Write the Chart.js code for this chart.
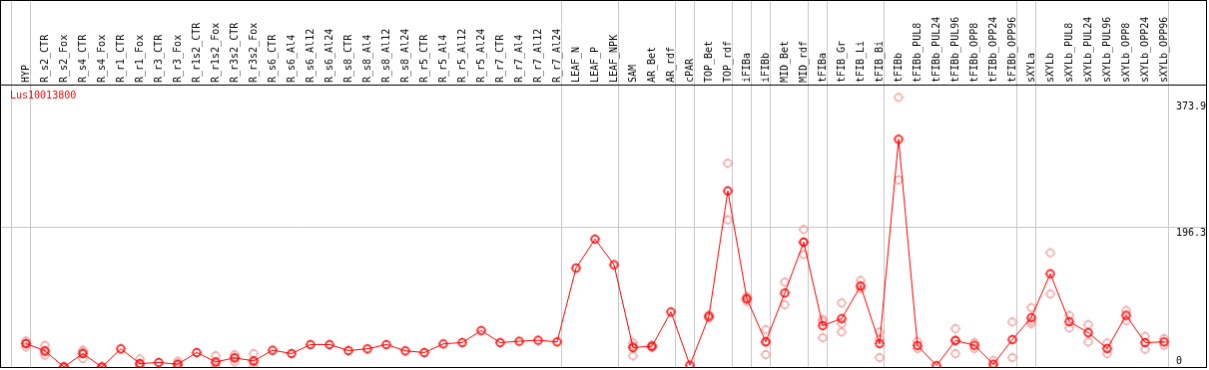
<!DOCTYPE html>
<html>
<head>
<meta charset="utf-8">
<script src="https://cdn.jsdelivr.net/npm/chart.js@4.4.1/dist/chart.umd.min.js"></script>
<style>
  html, body { margin: 0; padding: 0; background: #fff; }
  #c { display: block; border: 1px solid #000; }
</style>
</head>
<body>
<canvas id="c" width="1207" height="368"></canvas>
<script>
const seriesName = 'Lus10013800';
const categories = ['HYP','R_s2_CTR','R_s2_Fox','R_s4_CTR','R_s4_Fox','R_r1_CTR','R_r1_Fox','R_r3_CTR','R_r3_Fox','R_r1s2_CTR','R_r1s2_Fox','R_r3s2_CTR','R_r3s2_Fox','R_s6_CTR','R_s6_Al4','R_s6_Al12','R_s6_Al24','R_s8_CTR','R_s8_Al4','R_s8_Al12','R_s8_Al24','R_r5_CTR','R_r5_Al4','R_r5_Al12','R_r5_Al24','R_r7_CTR','R_r7_Al4','R_r7_Al12','R_r7_Al24','LEAF_N','LEAF_P','LEAF_NPK','SAM','AR_Bet','AR_rdf','cPAR','TOP_Bet','TOP_rdf','iFIBa','iFIBb','MID_Bet','MID_rdf','tFIBa','tFIB_Gr','tFIB_Li','tFIB_Bi','tFIBb','tFIBb_PUL8','tFIBb_PUL24','tFIBb_PUL96','tFIBb_OPP8','tFIBb_OPP24','tFIBb_OPP96','sXYLa','sXYLb','sXYLb_PUL8','sXYLb_PUL24','sXYLb_PUL96','sXYLb_OPP8','sXYLb_OPP24','sXYLb_OPP96'];

const means = [32.9,22.7,0,18.9,0,25.5,4.9,6.3,4,20.3,7.2,12.8,8.6,23.5,18.9,31.5,31.5,23.1,25.5,31.5,22.7,20.3,32.5,34.3,51.1,34.3,36.1,37.5,35.3,138.9,179.5,143.5,27.3,29.1,77.3,2.6,71.1,247.1,95.9,35.3,103.9,175.3,58.1,67.9,113.7,32.9,319.5,30.1,2,37.1,30.5,4,38.5,69.3,130.9,63.7,48.3,25.9,72.5,34.3,35.3];

const replicates = [
  [36.7,28.3,33],[30.5,16.5,21],[0,0,0],[23.5,11.9,21],[0,0,0],[],[11.5,0,3],[],[8.2,0,4],[],[16,0,5.5],[17.5,7.2,13.5],[18.9,0,7],
  [],[],[],[],[],[],[],[],[],[],[],[],[],[],[],[],
  [],[],[],
  [34.3,15.7,30],[31,27.5,29],[],[],[69,73],[285.9,206.5],[99,92,96],[52.5,17.5,36],[119.3,87.5],[193,158,175],
  [67,41.3,64],[89.9,60.9,49.3],[121.5,109.9],[49.3,38.9,13.3],[378.3,262.5],
  [36.1,25.9],[],[53.9,18.9,38],[34.3,25.9],[9.5,0],[63.3,13.3],
  [83.3,60.9,64],[160.3,102.5],[72.5,54.9],[59.5,35.3],[33.9,18.5],[79.5,65.1],[43.1,24.9],[39.9,30.5]
];

const yTickValues = [0, 196.3, 373.9];
const yTickLabels = ['0', '196.3', '373.9'];
const groupEnds = [-1, 0, 28, 31, 34, 35, 37, 38, 39, 41, 42, 45, 52, 53, 60];

function makeMarker(color, lw, size) {
  const c = document.createElement('canvas');
  c.width = 13; c.height = 13;
  const g = c.getContext('2d');
  g.strokeStyle = color;
  g.lineWidth = lw;
  g.beginPath(); g.arc(6.5, 6.5, size, 0, Math.PI * 2); g.stroke();
  g.lineWidth = 1;
  g.beginPath();
  g.moveTo(6.5, 1.5); g.lineTo(6.5, 2.6);
  g.moveTo(6.5, 10.4); g.lineTo(6.5, 11.5);
  g.moveTo(1.5, 6.5); g.lineTo(2.6, 6.5);
  g.moveTo(10.4, 6.5); g.lineTo(11.5, 6.5);
  g.stroke();
  return c;
}
const mainMarker = makeMarker('#ff0000', 1.6, 3.7);
const paleMarker = makeMarker('rgba(238,140,140,1)', 1.2, 3.7);

const meanPoints = means.map((v, i) => ({x: i, y: v}));
const repPoints = [];
replicates.forEach((arr, i) => arr.forEach(v => repPoints.push({x: i, y: v})));

const pxPerCat = 19;
const W = 1207;
const firstPx = 25;
const xMin = -firstPx / pxPerCat;
const xMax = xMin + W / pxPerCat;
const monoFont = {family: 'DejaVu Sans Mono', size: 10, lineHeight: 1.2};

const seriesTitle = {
  id: 'seriesTitle',
  afterDraw(chart) {
    const {ctx, chartArea} = chart;
    ctx.save();
    ctx.fillStyle = '#ff0000';
    ctx.font = '10px "DejaVu Sans Mono"';
    ctx.textBaseline = 'middle';
    ctx.textAlign = 'left';
    ctx.fillText(seriesName, chartArea.left + 9, chartArea.top + 11.5);
    ctx.restore();
  }
};

new Chart(document.getElementById('c'), {
  type: 'line',
  data: {
    datasets: [
      {
        label: seriesName,
        data: meanPoints,
        borderColor: '#ff0000',
        backgroundColor: '#ff0000',
        borderWidth: 1,
        pointStyle: mainMarker,
        tension: 0,
        xAxisID: 'x', yAxisID: 'y'
      },
      {
        label: 'replicates',
        data: repPoints,
        showLine: false,
        borderColor: 'rgba(238,140,140,1)',
        pointStyle: paleMarker,
        xAxisID: 'x', yAxisID: 'y'
      }
    ]
  },
  plugins: [seriesTitle],
  options: {
    responsive: false,
    animation: false,
    devicePixelRatio: 1,
    layout: {padding: 0, autoPadding: false},
    plugins: {
      tooltip: {enabled: false},
      legend: {display: false}
    },
    scales: {
      x: {
        type: 'linear', position: 'top', weight: 1,
        min: xMin, max: xMax,
        afterBuildTicks: s => { s.ticks = categories.map((c, i) => ({value: i})); },
        afterFit: s => { s.height = 84; s.paddingLeft = 0; s.paddingRight = 0; },
        ticks: {
          autoSkip: false, minRotation: 90, maxRotation: 90, padding: 2, labelOffset: 12,
          color: '#000', font: monoFont,
          callback: v => categories[v]
        },
        grid: {display: false, drawTicks: false},
        border: {display: true, color: '#000', width: 1}
      },
      xg: {
        type: 'linear', axis: 'x', position: 'top', weight: 0,
        min: xMin, max: xMax,
        afterBuildTicks: s => { s.ticks = groupEnds.map(g => ({value: g + 0.25})); },
        afterFit: s => { s.height = 0; s.paddingLeft = 0; s.paddingRight = 0; },
        ticks: {display: false},
        grid: {color: '#c8c8c8', lineWidth: 1, drawTicks: true, tickLength: 84},
        border: {display: false}
      },
      y: {
        type: 'linear', position: 'right',
        min: 0, max: 396.2,
        afterBuildTicks: s => { s.ticks = yTickValues.map(v => ({value: v})); },
        afterFit: s => { s.width = 0; s.paddingTop = 0; s.paddingBottom = 0; },
        ticks: {
          mirror: true, crossAlign: 'far', padding: 0,
          color: '#000', font: monoFont,
          callback: (v, i) => (i === 0 ? [yTickLabels[i], ''] : ['', yTickLabels[i]])
        },
        grid: {
          color: c => (c.tick && c.tick.value === 196.3 ? '#c8c8c8' : 'rgba(0,0,0,0)'),
          drawTicks: false
        },
        border: {display: false}
      }
    }
  }
});
</script>
</body>
</html>
